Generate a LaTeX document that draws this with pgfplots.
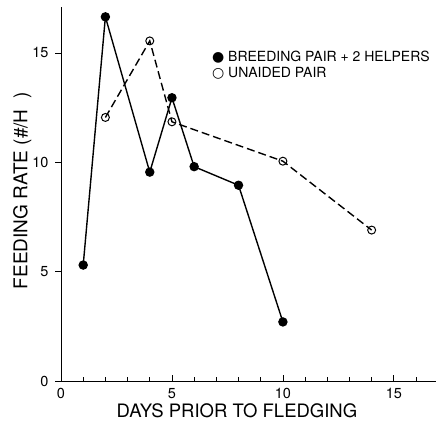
\documentclass[border=0pt]{standalone}
\usepackage{pgfplots}
\pgfplotsset{compat=1.18}
\usepackage{fontspec}
\setmainfont{TeX Gyre Heros}
\newfontfamily\symfont{DejaVu Sans}
\begin{document}
\begin{tikzpicture}
\begin{axis}[
  scale only axis,
  width=375bp, height=374bp,
  xmin=0, xmax=16.9, ymin=0, ymax=17.1,
  axis x line=bottom, axis y line=left,
  axis line style={-, line width=0.9pt},
  xtick={0,5,10,15}, minor xtick={1,2,3,4,6,7,8,9,11,12,13,14,16},
  ytick={0,5,10,15},
  xtick align=inside, ytick align=outside,
  major tick length=6bp, minor tick length=4bp,
  tick style={line width=0.8pt, black},
  /pgf/number format/assume math mode=true,
  ticklabel style={font=\fontsize{14.5bp}{16bp}\selectfont},
  xticklabel style={yshift=-4bp},
  yticklabel style={xshift=-3bp},
  clip=false,
]
\addplot[black, line width=1.4pt, mark=*, mark size=4pt, mark options={solid, fill=black}]
  coordinates {(1,5.3) (2,16.65) (4,9.55) (5,12.95) (6,9.8) (8,8.95) (10,2.7)};
\addplot[black, line width=1.4pt, dash pattern=on 8bp off 4bp, mark=o, mark size=4pt, mark options={solid, fill=white, line width=1pt}]
  coordinates {(2,12.05) (4,15.55) (5,11.85) (10,10.05) (14,6.9)};
\node[font=\fontsize{14bp}{16bp}\selectfont, anchor=west] at (axis cs:6.65,14.8) {{\symfont ●} BREEDING PAIR + 2 HELPERS};
\node[font=\fontsize{14bp}{16bp}\selectfont, anchor=west] at (axis cs:6.65,14.05) {{\symfont ○} UNAIDED PAIR};
\node[font=\fontsize{18.5bp}{20bp}\selectfont] at (axis cs:7.93,-1.35) {DAYS PRIOR TO FLEDGING};
\node[font=\fontsize{19bp}{20bp}\selectfont, rotate=90] at (axis cs:-1.75,8.7) {FEEDING RATE (\#/H\ \ )};
\coordinate (bl) at (axis cs:-2.75,-2.33);
\coordinate (tr) at (axis cs:16.9,17.42);
\end{axis}
\pgfresetboundingbox
\path[use as bounding box] (bl) rectangle (tr);
\end{tikzpicture}
\end{document}
